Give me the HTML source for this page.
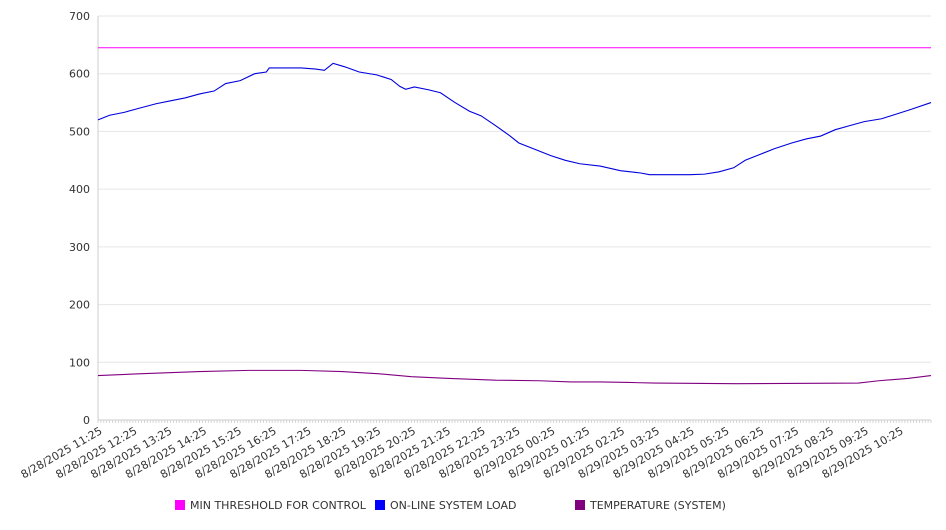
<!DOCTYPE html>
<html><head><meta charset="utf-8"><style>
body{margin:0;background:#fff;font-family:"DejaVu Sans","Liberation Sans",sans-serif;}
svg text{font-family:"DejaVu Sans","Liberation Sans",sans-serif;fill:#333;}
</style></head><body>
<svg id="chart" width="946" height="526">
<g id="grid"></g>
<g id="axes"></g>
<g id="series"></g>
<g>
 <g><rect x="175" y="500" width="10" height="10" fill="#ff00ff"/><text x="190" y="509" font-size="11">MIN THRESHOLD FOR CONTROL</text></g>
 <g><rect x="375" y="500" width="10" height="10" fill="#0000ff"/><text x="390" y="509" font-size="11">ON-LINE SYSTEM LOAD</text></g>
 <g><rect x="575" y="500" width="10" height="10" fill="#800080"/><text x="590" y="509" font-size="11">TEMPERATURE (SYSTEM)</text></g>
</g>
</svg>
<script>
const yTicks=[0,100,200,300,400,500,600,700];
const xLabels=["8/28/2025 11:25","8/28/2025 12:25","8/28/2025 13:25","8/28/2025 14:25","8/28/2025 15:25","8/28/2025 16:25","8/28/2025 17:25","8/28/2025 18:25","8/28/2025 19:25","8/28/2025 20:25","8/28/2025 21:25","8/28/2025 22:25","8/28/2025 23:25","8/29/2025 00:25","8/29/2025 01:25","8/29/2025 02:25","8/29/2025 03:25","8/29/2025 04:25","8/29/2025 05:25","8/29/2025 06:25","8/29/2025 07:25","8/29/2025 08:25","8/29/2025 09:25","8/29/2025 10:25"];
const threshold=645;
const loadMin=[0,20,45,70,100,125,150,175,200,220,245,270,290,295,320,350,375,390,405,425,450,480,505,520,530,545,570,590,615,640,660,685,710,725,755,780,805,830,865,900,935,950,985,1020,1045,1070,1095,1115,1140,1165,1195,1220,1245,1270,1295,1320,1350,1375,1400,1435];
const loadVal=[520,528,533,540,548,553,558,565,570,583,588,600,603,610,610,610,608,606,618,612,603,598,590,578,573,577,572,567,550,535,527,510,492,480,468,458,450,444,440,432,428,425,425,425,426,430,437,450,460,470,480,487,492,503,510,517,522,530,538,550];
const tempMin=[0,70,175,260,350,420,485,540,605,685,760,815,865,915,960,1100,1310,1345,1395,1435];
const tempVal=[77,80,84,86,86,84,80,75,72,69,68,66,66,65,64,63,64,68,72,77];
const X0=98,X1=931,Y0=420,Y1=16,TOTAL=1435,YMAX=700;
const xs=m=>X0+(X1-X0)*m/TOTAL;
const ys=v=>Y0-(Y0-Y1)*v/YMAX;
const NS="http://www.w3.org/2000/svg";
function mk(t,p,a){const e=document.createElementNS(NS,t);for(const k in a)e.setAttribute(k,a[k]);p.appendChild(e);return e;}
const grid=document.getElementById('grid'),axes=document.getElementById('axes'),ser=document.getElementById('series');
yTicks.forEach(v=>{
 const l=mk('line',grid,{x1:X0,x2:X1,y1:ys(v),y2:ys(v),stroke:'#e6e6e6'});
 
 
 const t=mk('text',axes,{x:X0-8,y:ys(v)+4,'text-anchor':'end','font-size':11});
 t.textContent=v;
 
 
});
const ya=mk('line',axes,{x1:X0,x2:X0,y1:Y1,y2:Y0,stroke:'#ccc'});


const xa=mk('line',axes,{x1:X0,x2:X1,y1:Y0,y2:Y0,stroke:'#ccc'});


for(let m=0;m<=TOTAL;m+=5){const tk=mk('line',axes,{x1:xs(m),x2:xs(m),y1:Y0,y2:Y0+3,stroke:'#ccc','stroke-width':0.8});
 
 }
xLabels.forEach((s,i)=>{const x=xs(i*60)+5;
 const t=mk('text',axes,{x:x,y:Y0+13,'text-anchor':'end','font-size':11,transform:`rotate(-30 ${x} ${Y0+13})`});
 t.textContent=s;
 
 });
const th=mk('line',ser,{x1:X0,x2:X1,y1:ys(threshold),y2:ys(threshold),stroke:'#ff00ff','stroke-width':1});


const lp=mk('polyline',ser,{points:loadMin.map((m,i)=>xs(m)+','+ys(loadVal[i])).join(' '),fill:'none',stroke:'#0000dd','stroke-width':1.1});


const tp=mk('polyline',ser,{points:tempMin.map((m,i)=>xs(m)+','+ys(tempVal[i])).join(' '),fill:'none',stroke:'#800080','stroke-width':1.1});


</script>
</body></html>
